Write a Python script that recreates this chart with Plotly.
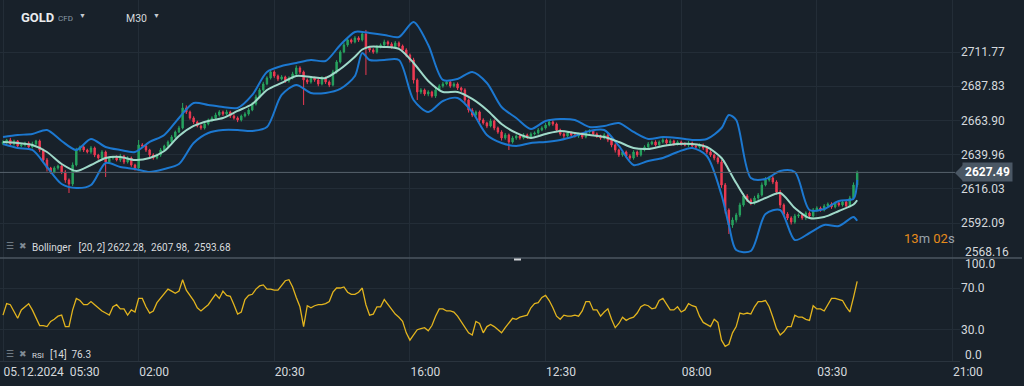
import plotly.graph_objects as go

# ---------------- data ----------------
closes = [
    2648.8, 2650.2, 2647.4, 2649.5, 2646.0, 2646.7, 2648.1, 2645.3, 2647.4, 2649.5,
    2643.2, 2636.2, 2630.6, 2627.8, 2630.6, 2632.0, 2627.8, 2622.2, 2619.4, 2632.7,
    2643.2, 2645.3, 2643.2, 2641.8, 2644.6, 2639.7, 2637.6, 2641.8, 2634.8, 2637.6,
    2638.3, 2636.2, 2639.0, 2634.8, 2637.6, 2632.7, 2630.6, 2646.7, 2646.0, 2643.2,
    2639.7, 2637.6, 2639.7, 2643.2, 2646.0, 2648.8, 2652.3, 2655.8, 2658.6, 2672.6,
    2669.8, 2665.6, 2662.8, 2660.0, 2658.6, 2661.4, 2664.2, 2665.6, 2667.7, 2669.8,
    2668.4, 2669.8, 2667.0, 2665.6, 2664.2, 2667.0, 2668.4, 2671.2, 2675.4, 2680.3,
    2685.2, 2689.4, 2693.6, 2697.8, 2695.0, 2692.9, 2694.3, 2691.5, 2693.6, 2696.4,
    2700.6, 2697.8, 2692.2, 2690.8, 2693.6, 2692.2, 2689.4, 2693.6, 2690.8, 2688.7,
    2697.8, 2704.8, 2711.8, 2716.7, 2720.2, 2718.8, 2721.6, 2720.2, 2724.4, 2714.6,
    2713.2, 2711.8, 2715.3, 2716.7, 2718.8, 2717.4, 2715.3, 2718.1, 2716.0, 2713.2,
    2709.7, 2706.2, 2692.2, 2683.8, 2685.2, 2682.4, 2683.8, 2681.0, 2685.2, 2688.0,
    2689.4, 2690.8, 2688.0, 2689.4, 2686.6, 2685.2, 2678.2, 2671.2, 2667.7, 2669.8,
    2664.2, 2662.1, 2660.0, 2663.5, 2658.6, 2655.8, 2651.6, 2653.7, 2648.8, 2651.6,
    2653.0, 2651.6, 2653.7, 2652.3, 2654.4, 2655.1, 2657.2, 2658.6, 2660.7, 2662.8,
    2661.4, 2657.2, 2654.4, 2653.0, 2655.1, 2653.7, 2653.0, 2654.4, 2652.3, 2655.8,
    2656.5, 2654.4, 2653.0, 2651.6, 2653.7, 2650.2, 2646.7, 2643.2, 2639.7, 2641.8,
    2639.0, 2637.6, 2641.8, 2639.7, 2643.2, 2645.3, 2647.4, 2648.8, 2646.7, 2648.8,
    2650.2, 2648.1, 2649.5, 2647.4, 2648.8, 2647.4, 2646.7, 2648.1, 2646.0, 2645.3,
    2646.7, 2644.6, 2641.8, 2639.7, 2637.6, 2634.8, 2618.7, 2601.2, 2590.7, 2594.2,
    2597.7, 2604.7, 2611.0, 2608.2, 2606.1, 2609.6, 2611.7, 2618.7, 2622.2, 2623.6,
    2620.8, 2613.8, 2604.7, 2598.4, 2595.6, 2592.8, 2597.0, 2597.7, 2595.6, 2599.1,
    2597.0, 2601.2, 2602.6, 2601.2, 2604.0, 2605.4, 2603.3, 2606.1, 2604.7, 2606.8,
    2604.0, 2609.6, 2618.7, 2627.49,
]
first_open = 2647.6

upper_wick = [
    1.2, 0.8, 1.5, 1.0, 0.7, 1.3, 0.9, 1.1, 1.6, 0.8,
    1.0, 0.9, 1.4, 0.8, 1.2, 1.0, 0.9, 1.3, 1.1, 1.8,
    1.5, 1.0, 1.2, 0.9, 1.4, 1.0, 0.8, 1.3, 1.0, 1.2,
    0.9, 1.1, 1.5, 0.8, 1.2, 1.0, 0.9, 3.5, 1.3, 1.0,
    0.8, 1.2, 1.0, 1.4, 0.9, 1.1, 1.3, 1.0, 1.5, 3.5,
    1.8, 1.0, 1.2, 0.9, 1.1, 1.4, 1.0, 1.2, 1.6, 1.3,
    1.0, 1.5, 0.9, 1.2, 1.1, 1.0, 1.3, 1.4, 1.2, 1.6,
    1.3, 1.5, 1.2, 2.0, 1.1, 1.0, 1.3, 0.9, 1.2, 1.5,
    1.8, 1.2, 1.0, 1.1, 1.4, 0.9, 1.2, 1.3, 1.0, 1.1,
    1.5, 1.3, 1.2, 1.6, 1.4, 1.0, 1.3, 1.2, 1.5, 2.8,
    1.0, 1.2, 1.4, 1.1, 1.6, 1.0, 1.2, 1.4, 1.1, 1.0,
    1.2, 1.0, 1.5, 1.1, 1.3, 1.0, 1.2, 0.9, 1.4, 1.2,
    1.5, 1.3, 1.0, 1.2, 1.1, 0.9, 1.2, 1.0, 1.3, 1.1,
    1.0, 1.2, 0.9, 1.6, 1.1, 1.0, 1.2, 1.4, 1.0, 1.3,
    1.1, 0.9, 1.3, 1.0, 1.2, 1.1, 1.4, 1.2, 1.5, 1.8,
    1.2, 1.0, 0.9, 1.1, 1.3, 1.0, 1.2, 0.9, 1.1, 1.4,
    1.2, 1.0, 1.1, 0.9, 1.3, 1.0, 1.2, 1.1, 0.9, 1.4,
    1.0, 1.2, 1.3, 1.0, 1.1, 1.2, 1.4, 1.0, 1.2, 1.1,
    1.3, 1.0, 1.2, 0.9, 1.1, 1.0, 1.2, 1.4, 1.0, 1.1,
    1.2, 1.0, 1.1, 1.3, 1.0, 1.2, 1.5, 1.4, 1.2, 1.8,
    1.5, 1.6, 2.0, 1.3, 1.2, 1.5, 1.4, 1.8, 2.0, 1.5,
    1.3, 1.2, 1.5, 1.1, 1.3, 1.2, 1.5, 1.1, 1.3, 1.2,
    1.1, 1.4, 1.2, 1.0, 1.3, 1.1, 1.2, 1.0, 1.4, 1.2,
    1.3, 1.5, 1.8, 1.2,
]
lower_wick = [
    1.0, 1.3, 0.8, 1.2, 1.5, 0.9, 1.1, 1.4, 1.0, 1.2,
    1.5, 1.8, 2.5, 1.3, 1.0, 1.2, 1.5, 2.0, 6.3, 1.5,
    1.0, 1.2, 1.4, 1.0, 1.3, 1.5, 1.2, 1.0, 10.5, 1.3,
    1.2, 1.0, 1.4, 1.5, 1.1, 1.3, 1.8, 2.0, 1.2, 1.4,
    1.5, 1.2, 1.0, 1.3, 0.9, 1.1, 1.0, 1.2, 0.8, 1.0,
    1.4, 1.2, 1.5, 1.0, 1.3, 1.1, 1.0, 1.2, 0.9, 1.1,
    1.3, 1.0, 1.4, 1.2, 1.5, 1.1, 1.0, 1.2, 0.9, 1.1,
    1.0, 1.2, 0.9, 1.1, 1.3, 1.5, 1.0, 1.4, 1.2, 1.0,
    1.2, 1.4, 17.5, 1.5, 1.2, 1.3, 1.6, 1.0, 1.4, 1.5,
    1.0, 1.2, 1.1, 0.9, 1.3, 1.2, 1.0, 1.4, 1.1, 18.9,
    1.5, 1.3, 1.2, 1.0, 1.1, 1.4, 1.2, 1.0, 1.3, 1.5,
    1.6, 1.8, 2.5, 5.6, 1.5, 1.3, 1.6, 1.2, 1.4, 1.0,
    1.2, 1.0, 1.3, 1.1, 1.4, 1.5, 2.0, 1.8, 1.5, 1.3,
    1.4, 1.2, 1.5, 1.0, 1.6, 1.3, 1.8, 1.2, 5.6, 1.1,
    1.3, 1.2, 1.0, 1.4, 1.1, 1.0, 1.2, 0.9, 1.1, 1.0,
    1.3, 1.5, 1.2, 1.4, 1.0, 1.2, 1.1, 1.3, 1.4, 1.0,
    1.1, 1.2, 1.4, 1.3, 1.0, 1.5, 1.6, 1.8, 1.4, 1.2,
    1.5, 1.3, 1.2, 1.4, 1.1, 1.0, 1.2, 0.9, 1.1, 1.0,
    1.1, 1.2, 1.0, 1.3, 1.1, 1.2, 1.0, 1.4, 1.2, 1.3,
    1.1, 1.5, 1.4, 1.3, 1.6, 1.5, 2.0, 2.5, 6.3, 2.0,
    1.8, 1.5, 1.2, 1.4, 1.6, 1.2, 1.3, 1.1, 1.0, 1.2,
    1.5, 1.8, 2.0, 1.6, 1.5, 1.8, 1.2, 1.4, 1.3, 1.5,
    1.2, 1.1, 1.3, 1.2, 1.0, 1.1, 1.3, 1.0, 1.2, 1.1,
    1.2, 1.0, 1.3, 1.5,
]

band_x = [0, 4, 8, 12, 16, 20, 24, 28, 32, 36, 40, 44, 48, 52, 56, 60, 64, 68, 72, 76,
          80, 84, 88, 92, 96, 98, 100, 104, 108, 112, 116, 120, 124, 128, 132, 136, 140,
          144, 148, 152, 156, 160, 164, 168, 172, 176, 180, 184, 188, 192, 196, 198, 200,
          204, 208, 212, 216, 220, 224, 228, 232, 233]
bb_upper = [2652.3, 2653.7, 2654.4, 2657.2, 2649.5, 2643.2, 2650.9, 2645.3, 2643.2, 2641.8,
            2648.8, 2653.7, 2665.6, 2676.1, 2674.7, 2673.3, 2672.6, 2681.7, 2697.8, 2702.0,
            2704.1, 2706.2, 2705.5, 2716.7, 2725.8, 2725.8, 2725.1, 2723.7, 2722.3, 2732.8,
            2716.7, 2692.2, 2692.9, 2697.8, 2690.1, 2673.3, 2665.6, 2657.9, 2663.5, 2664.9,
            2664.2, 2659.3, 2660.0, 2662.1, 2655.8, 2650.9, 2652.3, 2651.6, 2650.2, 2650.9,
            2658.6, 2667.7, 2664.2, 2623.6, 2622.9, 2628.5, 2627.8, 2601.2, 2601.9, 2607.5,
            2609.0, 2622.28]
bb_mid = [2648.8, 2648.1, 2646.7, 2641.8, 2633.4, 2628.5, 2632.7, 2637.6, 2638.3, 2636.2,
          2637.6, 2642.5, 2653.0, 2660.0, 2663.5, 2665.6, 2670.5, 2675.4, 2685.2, 2690.1,
          2695.0, 2694.3, 2693.6, 2699.9, 2708.5, 2713.5, 2715.5, 2715.3, 2713.9, 2704.1,
          2691.5, 2683.8, 2683.8, 2678.9, 2671.2, 2661.4, 2655.1, 2651.6, 2654.4, 2656.5,
          2655.1, 2653.7, 2652.3, 2648.8, 2644.6, 2643.9, 2646.0, 2647.4, 2647.4, 2645.3,
          2637.6, 2629.2, 2620.1, 2606.1, 2609.6, 2613.1, 2602.6, 2595.6, 2596.3, 2600.5,
          2605.0, 2607.98]
bb_lower = [2647.4, 2644.6, 2643.2, 2631.3, 2619.4, 2616.6, 2618.7, 2634.1, 2631.3, 2629.9,
            2627.8, 2629.9, 2633.4, 2648.1, 2655.1, 2657.2, 2657.2, 2656.5, 2659.3, 2681.7,
            2688.7, 2683.1, 2683.1, 2685.9, 2695.0, 2711.1, 2706.2, 2706.2, 2706.2, 2678.2,
            2669.8, 2677.5, 2679.6, 2669.8, 2653.7, 2648.1, 2646.0, 2648.1, 2648.8, 2650.2,
            2653.0, 2656.5, 2657.2, 2646.0, 2632.7, 2635.5, 2637.6, 2641.8, 2644.6, 2639.0,
            2611.7, 2590.7, 2573.2, 2572.5, 2598.4, 2601.2, 2580.2, 2585.1, 2590.7, 2590.0,
            2596.3, 2593.68]

rsi = [
    44, 55, 54, 47, 41, 49, 52, 55, 49, 41,
    34, 34, 33, 38, 40, 43, 44, 33, 33, 49,
    60, 58, 54, 54, 57, 54, 51, 48, 46, 44,
    52, 54, 50, 50, 44, 49, 47, 60, 60, 52,
    46, 48, 56, 60, 64, 69, 67, 65, 67, 78,
    68, 63, 58, 51, 48, 51, 54, 59, 64, 60,
    67, 63, 62, 54, 45, 47, 59, 63, 64, 69,
    72, 73, 69, 69, 68, 68, 72, 77, 78, 71,
    61, 52, 33, 53, 51, 53, 54, 54, 55, 57,
    66, 70, 70, 71, 66, 64, 64, 66, 70, 54,
    44, 45, 52, 52, 59, 54, 49, 45, 42, 38,
    27, 20, 25, 30, 31, 32, 29, 34, 43, 50,
    50, 48, 48, 47, 43, 38, 32, 27, 25, 38,
    36, 27, 33, 35, 33, 30, 27, 32, 36, 41,
    40, 42, 43, 44, 51, 55, 56, 61, 63, 58,
    51, 43, 40, 44, 43, 43, 44, 43, 48, 57,
    57, 49, 49, 43, 47, 50, 40, 32, 36, 42,
    39, 41, 42, 46, 52, 54, 53, 50, 51, 58,
    60, 54, 49, 49, 52, 47, 49, 55, 53, 52,
    43, 37, 35, 33, 40, 37, 20, 14, 16, 27,
    33, 46, 45, 46, 45, 52, 57, 57, 58, 52,
    42, 31, 25, 28, 33, 33, 44, 42, 42, 40,
    39, 53, 50, 50, 48, 54, 60, 60, 59, 58,
    52, 47, 61, 76.3,
]

price_tickvals = [2711.77, 2687.83, 2663.90, 2639.96, 2616.03, 2592.09]
price_ticktext = ["2711.77", "2687.83", "2663.90", "2639.96", "2616.03", "2592.09"]
price_bottom_label = (2568.16, "2568.16")
rsi_tickvals = [70, 30]
rsi_ticktext = ["70.0", "30.0"]
rsi_edge_labels = [(100, "100.0"), (0, "0.0")]
time_tickvals = [0, 37, 74, 111, 148, 185, 222, 259]
time_ticktext = ["05.12.2024\u00a0\u00a005:30", "02:00", "20:30", "16:00",
                 "12:30", "08:00", "03:30", "21:00"]
last_price = 2627.49
bb_params = "[20, 2]"
bb_values = ["2622.28", "2607.98", "2593.68"]
rsi_period = "[14]"
rsi_last = "76.3"
countdown = ("13", "02")
symbol, symbol_kind, timeframe = "GOLD", "CFD", "M30"

# ---------------- derived table ----------------
n = len(closes)
idx = list(range(n))
opens = [first_open] + closes[:-1]
highs = [max(o, c) + w for o, c, w in zip(opens, closes, upper_wick)]
lows = [min(o, c) - w for o, c, w in zip(opens, closes, lower_wick)]

# ---------------- layout geometry ----------------
W, H = 1024, 386
ML, MR, MT, MB = 0, 64, 0, 25
PW, PH = W - ML - MR, H - MT - MB
SPLIT = 258


def px(x):
    return (x - ML) / PW


def py(y):
    return 1 - (y - MT) / PH


BG = "#18212a"
GRID = "#232d37"
TXT = "#d5d9dd"
FONT = "Roboto, 'Open Sans', sans-serif"

fig = go.Figure()
fig.add_trace(go.Candlestick(
    x=idx, open=opens, high=highs, low=lows, close=closes,
    increasing=dict(line=dict(color="#27a35f", width=1), fillcolor="#27a35f"),
    decreasing=dict(line=dict(color="#ee3a52", width=1), fillcolor="#ee3a52"),
    whiskerwidth=0, xaxis="x", yaxis="y", hoverinfo="skip", showlegend=False,
))
for vals, col, wd in [(bb_upper, "#1c78d0", 2), (bb_lower, "#1c78d0", 2), (bb_mid, "#9fd9c9", 2)]:
    fig.add_trace(go.Scatter(
        x=band_x, y=vals, mode="lines", line=dict(color=col, width=wd, shape="spline", smoothing=0.8),
        xaxis="x", yaxis="y", hoverinfo="skip", showlegend=False,
    ))
fig.add_trace(go.Scatter(
    x=idx, y=rsi, mode="lines", line=dict(color="#e2b41e", width=1.3),
    xaxis="x", yaxis="y2", hoverinfo="skip", showlegend=False,
))

ann = []


def text(x, y, t, size=11, color=TXT, anchor="left", **kw):
    ann.append(dict(x=px(x), y=py(y), xref="paper", yref="paper", text=t, showarrow=False,
                    xanchor=anchor, yanchor="middle", font=dict(size=size, color=color, family=FONT), **kw))


text(19, 18, "<b>%s</b>" % symbol, size=13, color="#e9ebed")
text(56, 19, symbol_kind, size=8, color="#8a9aa6")
text(77, 16, "▼", size=7, color="#c5cbd0")
text(124, 19, timeframe, size=10.5, color="#d6dadd")
text(151, 16, "▼", size=7, color="#c5cbd0")

# indicator legends
for yy in (246, 354):
    text(4, yy, "☰", size=9, color="#808b94")
    text(17, yy, "✖", size=9, color="#808b94")
text(30, 247, "Bollinger\u00a0\u00a0 %s %s,\u00a0 %s,\u00a0 %s" % (bb_params, *bb_values), size=10, color="#d8dcdf")
text(30, 355, "RSI", size=8, color="#d8dcdf")
text(48, 354, "%s\u00a0 %s" % (rsi_period, rsi_last), size=10, color="#d8dcdf")

# price/rsi edge labels
text(963, 252, price_bottom_label[1], size=12)
text(963, 264, rsi_edge_labels[0][1], size=12)
text(963, 355, rsi_edge_labels[1][1], size=12)

# countdown
text(957, 238, "<span style='color:#e58c1c'>%s</span>m <span style='color:#e58c1c'>%s</span>s" % countdown,
     size=13, color="#9aa3ab", anchor="right")

# last price box
ann.append(dict(x=px(962), y=last_price, xref="paper", yref="y", text="<b>%.2f</b>" % last_price,
                showarrow=False, xanchor="left", yanchor="middle", bgcolor="#4a5764",
                borderpad=2, font=dict(size=12, color="#ffffff", family=FONT)))

shapes = [
    dict(type="line", xref="paper", yref="y", x0=0, x1=px(955), y0=last_price, y1=last_price,
         line=dict(color="#56616c", width=1)),
    dict(type="path", xref="paper", yref="paper",
         path="M %f,%f L %f,%f L %f,%f Z" % (px(955), py(173), px(963), py(165), px(963), py(181)),
         fillcolor="#4a5764", line=dict(width=0)),
    dict(type="line", xref="paper", yref="paper", x0=0, x1=px(1022), y0=py(SPLIT), y1=py(SPLIT),
         line=dict(color="#4b5660", width=1.5)),
    dict(type="rect", xref="paper", yref="paper", x0=px(514), x1=px(521), y0=py(258.5), y1=py(260.5),
         fillcolor="#cfd3d6", line=dict(width=0)),
]

fig.update_layout(
    width=W, height=H, margin=dict(l=ML, r=MR, t=MT, b=MB),
    paper_bgcolor=BG, plot_bgcolor=BG, showlegend=False,
    font=dict(family=FONT, color=TXT, size=11),
    boxgap=0.45, hovermode=False,
    xaxis=dict(domain=[0, 1], anchor="y2", range=[-0.818, 261.05], rangeslider=dict(visible=False),
               tickmode="array", tickvals=time_tickvals, ticktext=time_ticktext,
               ticklabelposition="outside right", ticks="", showgrid=True, gridcolor=GRID, gridwidth=1,
               zeroline=False, showline=True, linecolor="#2a343e", linewidth=1,
               tickfont=dict(size=12, color=TXT, family=FONT)),
    yaxis=dict(domain=[py(SPLIT), 1], anchor="x", side="right", range=[2567.6, 2748.16],
               tickmode="array", tickvals=price_tickvals, ticktext=price_ticktext, ticks="",
               showgrid=True, gridcolor=GRID, zeroline=False, showline=False,
               tickfont=dict(size=12, color=TXT, family=FONT)),
    yaxis2=dict(domain=[0, py(SPLIT)], anchor="x", side="right", range=[0, 98.8],
                tickmode="array", tickvals=rsi_tickvals, ticktext=rsi_ticktext, ticks="",
                showgrid=True, gridcolor=GRID, zeroline=False, showline=False,
                tickfont=dict(size=12, color=TXT, family=FONT)),
    annotations=ann, shapes=shapes,
)

fig.write_html(
    "out.html",
    config={"displayModeBar": False},
    post_script="document.body.style.margin='0';document.body.style.overflow='hidden';"
                "document.body.style.background='%s';" % BG,
)
